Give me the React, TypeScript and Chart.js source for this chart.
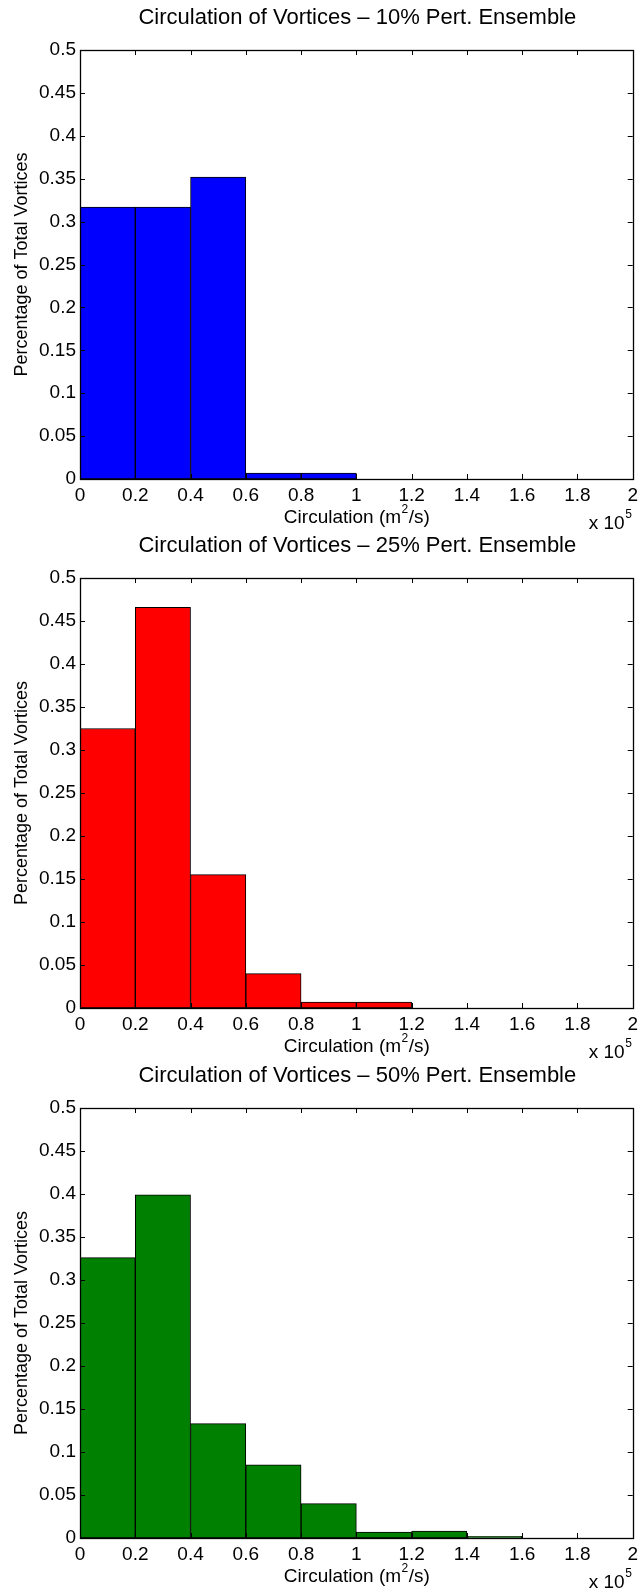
import React, { useEffect, useRef } from "react";
import { Chart, registerables } from "chart.js";
Chart.register(...registerables);

const binCenters = [0.1, 0.3, 0.5, 0.7, 0.9, 1.1, 1.3, 1.5, 1.7, 1.9];
const xTicks = [0, 0.2, 0.4, 0.6, 0.8, 1, 1.2, 1.4, 1.6, 1.8, 2];
const yTicks = [0, 0.05, 0.1, 0.15, 0.2, 0.25, 0.3, 0.35, 0.4, 0.45, 0.5];
const titles = [
  "Circulation of Vortices \u2013 10% Pert. Ensemble",
  "Circulation of Vortices \u2013 25% Pert. Ensemble",
  "Circulation of Vortices \u2013 50% Pert. Ensemble",
];
const values10 = [0.317, 0.317, 0.352, 0.007, 0.007, 0, 0, 0, 0, 0];
const values25 = [0.325, 0.466, 0.155, 0.04, 0.007, 0.007, 0, 0, 0, 0];
const values50 = [0.326, 0.399, 0.133, 0.085, 0.04, 0.007, 0.008, 0.002, 0, 0];
const seriesList = [values10, values25, values50];
const colors = ["#0000ff", "#ff0000", "#008000"];
const xLabel = "Circulation (m";
const yLabel = "Percentage of Total Vortices";

const FONT = "'Liberation Sans', Arial, Helvetica, sans-serif";
const CANVAS_W = 643;
const CANVAS_H = 536;
const panelTops = [0, 528, 1058];
const plotHeights = [429, 430, 430];
const PLOT_TOP = 50;
const PLOT_LEFT = 80;
const PAD_RIGHT = 6;
const TICK = 5;

function makeDecor(i: number) {
  return {
    id: "decor" + i,
    afterDraw(chart: any) {
      const { ctx, chartArea: a, scales } = chart;
      const xs = scales.x;
      const ys = scales.y;
      ctx.save();
      ctx.strokeStyle = "#000";
      ctx.lineWidth = 1;
      ctx.beginPath();
      for (const v of xTicks) {
        const px = Math.round(xs.getPixelForValue(v)) + 0.5;
        ctx.moveTo(px, a.bottom);
        ctx.lineTo(px, a.bottom - TICK);
        ctx.moveTo(px, a.top);
        ctx.lineTo(px, a.top + TICK);
      }
      for (const v of yTicks) {
        const py = Math.round(ys.getPixelForValue(v)) + 0.5;
        ctx.moveTo(a.left, py);
        ctx.lineTo(a.left + TICK, py);
        ctx.moveTo(a.right, py);
        ctx.lineTo(a.right - TICK, py);
      }
      ctx.stroke();
      ctx.lineWidth = 1.3;
      ctx.strokeRect(Math.round(a.left) + 0.5, Math.round(a.top) + 0.5, Math.round(a.right - a.left), Math.round(a.bottom - a.top));

      const cx = (a.left + a.right) / 2;
      ctx.fillStyle = "#000";
      ctx.textBaseline = "middle";
      // title
      ctx.font = `22px ${FONT}`;
      ctx.textAlign = "center";
      ctx.fillText(titles[i], cx + 1, a.top - 32);
      // x label with superscript
      ctx.font = `19px ${FONT}`;
      const w1 = ctx.measureText(xLabel).width;
      ctx.font = `12px ${FONT}`;
      const w2 = ctx.measureText("2").width;
      ctx.font = `19px ${FONT}`;
      const w3 = ctx.measureText("/s)").width;
      const total = w1 + w2 + w3;
      const sx = cx - total / 2;
      const ly = a.bottom + 39;
      ctx.textAlign = "left";
      ctx.fillText(xLabel, sx, ly);
      ctx.font = `12px ${FONT}`;
      ctx.fillText("2", sx + w1 + 0.5, ly - 8);
      ctx.font = `19px ${FONT}`;
      ctx.fillText("/s)", sx + w1 + w2 + 1, ly);
      // x 10^5
      ctx.font = `19px ${FONT}`;
      const e1 = "x 10";
      const ew = ctx.measureText(e1).width;
      const ex = a.right - 44;
      ctx.fillText(e1, ex, a.bottom + 45);
      ctx.font = `12px ${FONT}`;
      ctx.fillText("5", ex + ew + 0.5, a.bottom + 36);
      // y label
      ctx.font = `18px ${FONT}`;
      ctx.translate(22, (a.top + a.bottom) / 2);
      ctx.rotate(-Math.PI / 2);
      ctx.textAlign = "center";
      ctx.fillText(yLabel, 0, 0);
      ctx.restore();
    },
  };
}

function Panel({ index }: { index: number }) {
  const ref = useRef<HTMLCanvasElement | null>(null);
  useEffect(() => {
    if (!ref.current) return;
    const vals = seriesList[index];
    const plotH = plotHeights[index];
    const chart = new Chart(ref.current, {
      type: "bar",
      data: {
        datasets: [
          {
            data: binCenters.map((c, k) => ({ x: c, y: vals[k] })),
            backgroundColor: colors[index],
            borderColor: "#000",
            borderWidth: 1,
            borderSkipped: false,
            categoryPercentage: 1,
            barPercentage: 1,
          } as any,
        ],
      },
      options: {
        responsive: false,
        animation: false,
        devicePixelRatio: 1,
        layout: { padding: { top: PLOT_TOP, right: PAD_RIGHT, left: 0, bottom: 0 } },
        plugins: { legend: { display: false }, tooltip: { enabled: false }, title: { display: false } },
        scales: {
          x: {
            type: "linear",
            min: 0,
            max: 2,
            offset: false,
            grid: { display: false, drawTicks: false },
            border: { display: false },
            afterBuildTicks: (s: any) => {
              s.ticks = xTicks.map((v) => ({ value: v }));
            },
            afterFit: (s: any) => {
              s.height = CANVAS_H - PLOT_TOP - plotH;
            },
            ticks: {
              color: "#000",
              font: { family: FONT, size: 19 },
              padding: 5,
              maxRotation: 0,
              autoSkip: false,
              callback: (v: any) => String(+(+v).toFixed(1)),
            },
          },
          y: {
            min: 0,
            max: 0.5,
            grid: { display: false, drawTicks: false },
            border: { display: false },
            afterBuildTicks: (s: any) => {
              s.ticks = yTicks.map((v) => ({ value: v }));
            },
            afterFit: (s: any) => {
              s.width = PLOT_LEFT;
            },
            ticks: {
              color: "#000",
              font: { family: FONT, size: 19 },
              padding: 4,
              autoSkip: false,
              callback: (v: any) => String(+(+v).toFixed(2)),
            },
          },
        },
      },
      plugins: [makeDecor(index)],
    });
    return () => chart.destroy();
  }, [index]);
  return (
    <canvas
      ref={ref}
      width={CANVAS_W}
      height={CANVAS_H}
      style={{ position: "absolute", left: 0, top: panelTops[index], width: CANVAS_W, height: CANVAS_H }}
    />
  );
}

export default function App() {
  return (
    <div style={{ position: "absolute", left: 0, top: 0, width: CANVAS_W, height: 1594, background: "#fff" }}>
      <Panel index={0} />
      <Panel index={1} />
      <Panel index={2} />
    </div>
  );
}
